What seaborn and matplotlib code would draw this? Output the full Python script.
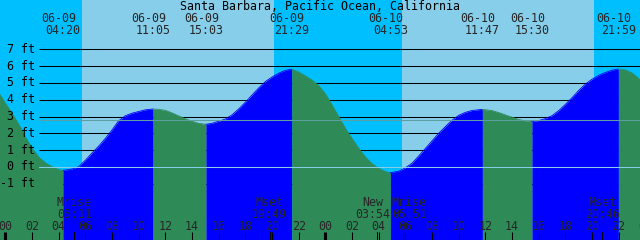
import matplotlib
matplotlib.use("Agg")
import matplotlib.pyplot as plt
import matplotlib.transforms as mtransforms
import numpy as np
import pandas as pd
import seaborn as sns

# ---------------- data ----------------
title = "Santa Barbara, Pacific Ocean, California"

# hours counted from 06-09 00:00, heights in ft
tide_hours = [-1.0, -0.4, 0.0, 0.5, 1.0, 1.5, 2.0, 2.5, 3.0, 3.5, 4.0, 4.333,
              5.0, 5.5, 6.0, 6.5, 7.0, 7.5, 8.0, 8.5, 9.0, 9.5, 10.0, 10.5, 11.083,
              11.5, 12.0, 12.5, 13.0, 13.5, 14.0, 14.5, 15.05,
              15.5, 16.0, 16.5, 17.0, 17.5, 18.0, 18.5, 19.0, 19.5, 20.0, 20.5, 21.0, 21.483,
              22.0, 22.5, 23.0, 23.5, 24.0, 24.5, 25.0, 25.5, 26.0, 26.5, 27.0, 27.5, 28.0,
              28.5, 28.883,
              29.5, 30.0, 30.5, 31.0, 31.5, 32.0, 32.5, 33.0, 33.5, 34.0, 34.5, 35.0, 35.783,
              36.5, 37.0, 37.5, 38.0, 38.5, 39.0, 39.5,
              40.0, 40.5, 41.0, 41.5, 42.0, 42.5, 43.0, 43.5, 44.0, 44.5, 45.0, 45.5, 45.983,
              46.5, 47.0, 47.6, 48.0]
tide_ft = [5.0, 4.3, 3.8, 3.2, 2.55, 1.8, 1.12, 0.6, 0.25, 0.02, -0.15, -0.2,
           -0.12, 0.02, 0.4, 0.83, 1.24, 1.7, 2.2, 2.75, 3.05, 3.2, 3.3, 3.4, 3.45,
           3.43, 3.37, 3.22, 3.04, 2.87, 2.72, 2.6, 2.54,
           2.6, 2.72, 2.85, 3.1, 3.45, 3.85, 4.28, 4.7, 5.08, 5.35, 5.58, 5.75, 5.82,
           5.65, 5.42, 5.17, 4.85, 4.35, 3.7, 3.0, 2.3, 1.7, 1.12, 0.6, 0.2, -0.07,
           -0.27, -0.34,
           -0.25, -0.05, 0.22, 0.65, 1.1, 1.55, 2.0, 2.4, 2.78, 3.07, 3.25, 3.36, 3.43,
           3.36, 3.24, 3.1, 2.96, 2.83, 2.74, 2.7,
           2.76, 2.88, 3.05, 3.35, 3.72, 4.12, 4.55, 4.93, 5.22, 5.45, 5.62, 5.76, 5.83,
           5.78, 5.6, 5.2, 4.9]

extreme_dates = ["06-09", "06-09", "06-09", "06-09", "06-10", "06-10", "06-10", "06-10"]
extreme_times = ["04:20", "11:05", "15:03", "21:29", "04:53", "11:47", "15:30", "21:59"]
extreme_days = [0, 0, 0, 0, 1, 1, 1, 1]

# daylight intervals (hours)
day_start = [5.75, 29.75]
day_end = [20.15, 44.15]

moon_names = ["Mrise", "Mset", "New", "Mrise", "Mset"]
moon_times = ["05:11", "19:49", "03:54", "05:51", "20:46"]
moon_days = [0, 0, 1, 1, 1]

hour_labels = ["00", "02", "04", "06", "08", "10", "12", "14", "16", "18", "20", "22"] * 2 + ["00"]
hour_ticks = list(range(0, 50, 2))

level_values = [7, 6, 5, 4, 3, 2, 1, 0, -1]
level_labels = ["7 ft", "6 ft", "5 ft", "4 ft", "3 ft", "2 ft", "1 ft", "0 ft", "-1 ft"]
mean_level = 2.78

# ---------------- styling ----------------
NIGHT = "#00BFFF"
DAY = "#87CEEB"
RISE = "#0000FF"
FALL = "#2E8B57"
W, H = 640, 240
X0, PXH = 5.3, 13.333      # pixel of hour 0, pixels per hour
Y0, PXF = 167.0, 16.81     # pixel of 0 ft, pixels per ft

def hm(t, day):
    h, m = t.split(":")
    return day * 24 + int(h) + int(m) / 60.0

sns.set_style("white")
plt.rcParams["font.family"] = ["DejaVu Sans Mono", "DejaVu Sans"]
FS = 8.4
LW = 0.75

fig = plt.figure(figsize=(W / 100, H / 100), dpi=100)
ax = fig.add_axes([0, 0, 1, 1])

# sky
ax.axvspan(-5, 60, color=NIGHT, lw=0, zorder=0)
for s, e in zip(day_start, day_end):
    ax.axvspan(s, e, color=DAY, lw=0, zorder=0.5)

# level lines
xline0 = (39 - X0) / PXH
xline1 = 60
for v in level_values:
    if v == 0:
        continue
    ax.plot([xline0, xline1], [v, v], color="black", lw=LW, zorder=1, solid_capstyle="butt")

# tide fill: blue when rising, green when falling
df = pd.DataFrame({"hour": tide_hours, "ft": tide_ft})
n = len(df)
runs = []
start = 0
direction = df.ft[1] > df.ft[0]
for i in range(1, n - 1):
    d = df.ft[i + 1] > df.ft[i]
    if d != direction:
        runs.append((start, i, direction))
        start = i
        direction = d
runs.append((start, n - 1, direction))
bottom = (Y0 - H) / PXF - 1
for a, b, rising in runs:
    seg = df.iloc[a:b + 1]
    col = RISE if rising else FALL
    ax.fill_between(seg.hour, seg.ft, bottom, color=col, lw=0, zorder=2, antialiased=False)
    sns.lineplot(data=seg, x="hour", y="ft", color=col, lw=0.6, ax=ax, zorder=2.1,
                 sort=False, estimator=None)

# zero and mean lines
ax.plot([xline0, xline1], [0, 0], color="#87CEEB", lw=LW, zorder=3)
ax.plot([xline0, xline1], [mean_level, mean_level], color="#5F9EA0", lw=LW, zorder=3)

ax.set_xlim((0 - X0) / PXH, (W - X0) / PXH)
ax.set_ylim((Y0 - H) / PXF, Y0 / PXF)
ax.axis("off")

# level labels
ytr = mtransforms.blended_transform_factory(fig.transFigure, ax.transData)
for v, lab in zip(level_values, level_labels):
    ax.text(35 / W, v, lab, transform=ytr, ha="right", va="center", fontsize=FS,
            color="black", zorder=4)

# title
fig.text(0.5, 1 - 9.5 / H, title, ha="center", va="baseline", fontsize=FS, color="black")

xtr = mtransforms.blended_transform_factory(ax.transData, fig.transFigure)

def px_y(y):
    return 1 - y / H

# extremes
for d, t, day in zip(extreme_dates, extreme_times, extreme_days):
    h = hm(t, day)
    tr_d = mtransforms.offset_copy(xtr, fig=fig, x=-4.5, y=0, units="dots")
    ax.text(h, px_y(21.7), d, transform=tr_d, ha="center", va="baseline", fontsize=FS, zorder=4)
    ax.text(h, px_y(34), t, transform=xtr, ha="center", va="baseline", fontsize=FS, zorder=4)

# moon events
moon_nudge = [0, 0, -5, 6, 0]
for name, t, day, dx in zip(moon_names, moon_times, moon_days, moon_nudge):
    h = hm(t, day)
    tr_m = mtransforms.offset_copy(xtr, fig=fig, x=dx, y=0, units="dots")
    ax.text(h, px_y(206), name, transform=tr_m, ha="center", va="baseline", fontsize=FS, zorder=4)
    ax.text(h, px_y(218.3), t, transform=tr_m, ha="center", va="baseline", fontsize=FS, zorder=4)
    ax.plot([h, h], [0, 8 / H], transform=xtr, color="black", lw=LW, zorder=4)

# hour ticks and labels
for h, lab in zip(hour_ticks, hour_labels):
    thick = (h % 24 == 0)
    ax.plot([h, h], [0, 8 / H], transform=xtr, color="black", lw=2.2 if thick else LW,
            zorder=4, solid_capstyle="butt")
    ax.text(h, px_y(230), lab, transform=xtr, ha="center", va="baseline", fontsize=FS, zorder=4)

fig.savefig("out.png", dpi=100)
